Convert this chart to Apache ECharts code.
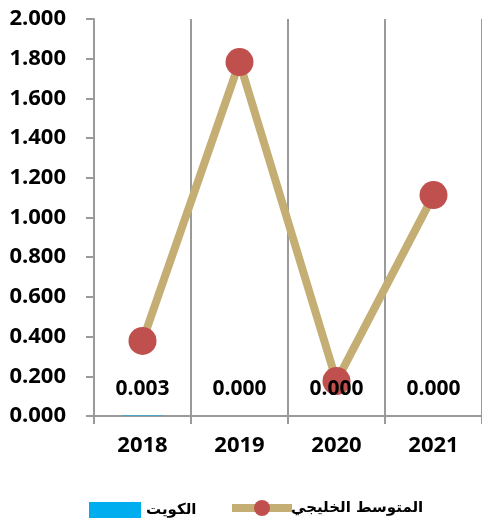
<!DOCTYPE html>
<html>
<head>
<meta charset="utf-8">
<style>
  html, body { margin: 0; padding: 0; background: #fff; }
  #chart { width: 482px; height: 521px; }
</style>
<script src="https://cdn.jsdelivr.net/npm/echarts@6/dist/echarts.min.js"></script>
</head>
<body>
<div id="chart"></div>
<script>
// Years on the category axis
const years = ['2018', '2019', '2020', '2021'];
// Kuwait (bars)
const kuwait = [0.003, 0.000, 0.000, 0.000];
// Gulf average (line)
const gulfAverage = [0.378, 1.783, 0.176, 1.113];
const kuwaitName = 'الكويت';
const gulfName = 'المتوسط الخليجي';

const chart = echarts.init(document.getElementById('chart'));
const gridColor = '#9a9a9a';
const numFont = '"Open Sans", sans-serif';
const arFont = '"DejaVu Sans", sans-serif';

chart.setOption({
  animation: false,
  grid: { left: 94, right: -3, top: 19, bottom: 105 },
  legend: [
    {
      data: [kuwaitName],
      left: 89, top: 502, padding: 0,
      itemWidth: 52, itemHeight: 16, itemGap: 0,
      icon: 'rect',
      textStyle: { fontFamily: arFont, fontWeight: 'bold', fontSize: 15, color: '#000' }
    },
    {
      data: [gulfName],
      left: 228, top: 500, padding: 0,
      itemWidth: 60, itemHeight: 20, itemGap: 0,
      lineStyle: { width: 8, color: '#C4AE74' },
      textStyle: { fontFamily: arFont, fontWeight: 'bold', fontSize: 15, color: '#000', padding: [0, 0, 0, -6] }
    }
  ],
  xAxis: {
    type: 'category',
    data: years,
    axisLine: { show: true, lineStyle: { color: gridColor, width: 2 } },
    axisTick: { show: true, length: 8, lineStyle: { color: gridColor, width: 2 } },
    splitLine: { show: true, lineStyle: { color: gridColor, width: 2 } },
    axisLabel: { color: '#000', fontFamily: numFont, fontWeight: 'bold', fontSize: 22, margin: 19 }
  },
  yAxis: {
    type: 'value',
    min: 0, max: 2, interval: 0.2,
    axisLine: { show: true, lineStyle: { color: gridColor, width: 2 } },
    axisTick: { show: true, length: 8, lineStyle: { color: gridColor, width: 2 } },
    splitLine: { show: false },
    axisLabel: {
      color: '#000', fontFamily: numFont, fontWeight: 'bold', fontSize: 22, margin: 28,
      formatter: v => v.toFixed(3)
    }
  },
  series: [
    {
      name: kuwaitName,
      type: 'bar',
      data: kuwait,
      barWidth: 40,
      itemStyle: { color: '#00AEEF' },
      z: 3,
      label: {
        show: true, position: 'top', distance: 16,
        color: '#000', fontFamily: numFont, fontWeight: 'bold', fontSize: 21,
        formatter: p => p.value.toFixed(3)
      }
    },
    {
      name: gulfName,
      type: 'line',
      data: gulfAverage,
      symbol: 'circle',
      symbolSize: 28,
      z: 2,
      lineStyle: { color: '#C4AE74', width: 8 },
      itemStyle: { color: '#C0504D' }
    }
  ]
});
</script>
</body>
</html>
